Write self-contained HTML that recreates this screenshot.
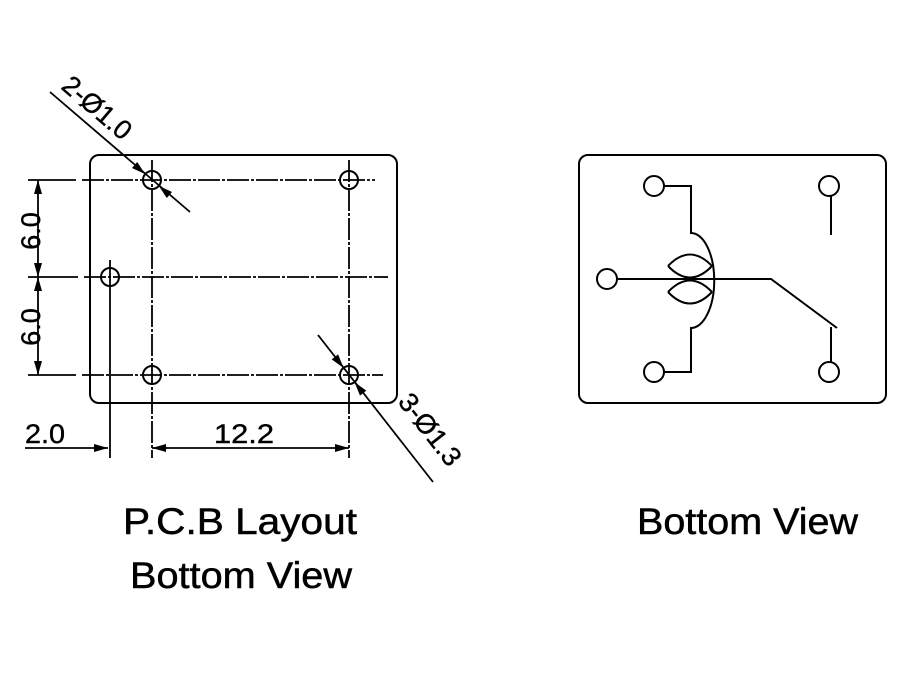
<!DOCTYPE html>
<html><head><meta charset="utf-8"><style>html,body{margin:0;padding:0;background:#fff}</style></head>
<body>
<svg width="900" height="675" viewBox="0 0 900 675" xmlns="http://www.w3.org/2000/svg" font-family="Liberation Sans, sans-serif">
<g stroke="#000" fill="none" stroke-width="2">
<rect x="90" y="155" width="307" height="248" rx="9"/>
<g stroke-width="1.8" stroke-dasharray="22 2 3 2">
<line x1="28" y1="180" x2="76" y2="180" stroke-dasharray="none"/>
<line x1="82" y1="180" x2="375" y2="180"/>
<line x1="28" y1="277" x2="78" y2="277" stroke-dasharray="none"/>
<line x1="84" y1="277" x2="388" y2="277"/>
<line x1="28" y1="375" x2="76" y2="375" stroke-dasharray="none"/>
<line x1="82" y1="375" x2="383" y2="375"/>
<line x1="152" y1="160" x2="152" y2="458"/>
<line x1="349" y1="160" x2="349" y2="458"/>
<line x1="110" y1="260" x2="110" y2="458" stroke-dasharray="none"/>
</g>
<circle cx="152" cy="180" r="9"/>
<circle cx="349" cy="180" r="9"/>
<circle cx="110" cy="277" r="9"/>
<circle cx="152" cy="375" r="9"/>
<circle cx="349" cy="375" r="9"/>
<line x1="38" y1="180" x2="38" y2="375" stroke-width="1.8"/>
<line x1="25" y1="448" x2="108" y2="448" stroke-width="1.8"/>
<line x1="152" y1="448" x2="349" y2="448" stroke-width="1.8"/>
<line x1="50" y1="92" x2="190" y2="212" stroke-width="1.8"/>
<line x1="318" y1="335" x2="433" y2="482" stroke-width="1.8"/>
<!-- right -->
<rect x="579" y="155" width="307" height="248" rx="9"/>
<circle cx="654" cy="186" r="10"/>
<circle cx="829" cy="186" r="10"/>
<circle cx="607" cy="279" r="10"/>
<circle cx="654" cy="372" r="10"/>
<circle cx="829" cy="372" r="10"/>
<path d="M664,186 H691 V233 A23,47 0 0 1 691,328 V372 H664"/>
<path d="M668,266 Q690,243 712,266 M668,266 Q690,289 712,266 M668,292 Q690,269 712,292 M668,292 Q690,315 712,292"/>
<path d="M617,279 H771 L837,328"/>
<line x1="831" y1="327" x2="831" y2="362"/>
<line x1="831" y1="196" x2="831" y2="235"/>
</g>
<g fill="#000">
<path d="M38,180 l-4,14 h8 z"/>
<path d="M38,277 l-4,-14 h8 z"/>
<path d="M38,277 l-4,14 h8 z"/>
<path d="M38,375 l-4,-14 h8 z"/>
<path d="M108,448 l-14,-4 v8 z"/>
<path d="M152,448 l14,-4 v8 z"/>
<path d="M349,448 l-14,-4 v8 z"/>
<path d="M145.2,174.1 L132,168 L137.2,162 z"/>
<path d="M158.8,185.9 L166.8,198 L172,192 z"/>
<path d="M343.5,367.9 L331.7,359.4 L338.1,354.4 z"/>
<path d="M354.5,382.1 L360,395.6 L366.3,390.6 z"/>
</g>
<g fill="#000" stroke="#000" stroke-width="0.4" font-size="27">
<text transform="translate(40,231) rotate(-90)" text-anchor="middle">6.0</text>
<text transform="translate(40,327) rotate(-90)" text-anchor="middle">6.0</text>
<text x="25" y="443" textLength="40" lengthAdjust="spacingAndGlyphs">2.0</text>
<text x="214" y="443" textLength="60" lengthAdjust="spacingAndGlyphs">12.2</text>
<text transform="translate(60,88) rotate(40.6)" textLength="82" lengthAdjust="spacingAndGlyphs">2-Ø1.0</text>
<text transform="translate(397,402) rotate(52)" textLength="84" lengthAdjust="spacingAndGlyphs">3-Ø1.3</text>
</g>
<g fill="#000" stroke="#000" stroke-width="0.5" font-size="37">
<text x="123" y="534" textLength="234" lengthAdjust="spacingAndGlyphs">P.C.B Layout</text>
<text x="130" y="588" textLength="222" lengthAdjust="spacingAndGlyphs">Bottom View</text>
<text x="637" y="534" textLength="221" lengthAdjust="spacingAndGlyphs">Bottom View</text>
</g>
</svg>
</body></html>
